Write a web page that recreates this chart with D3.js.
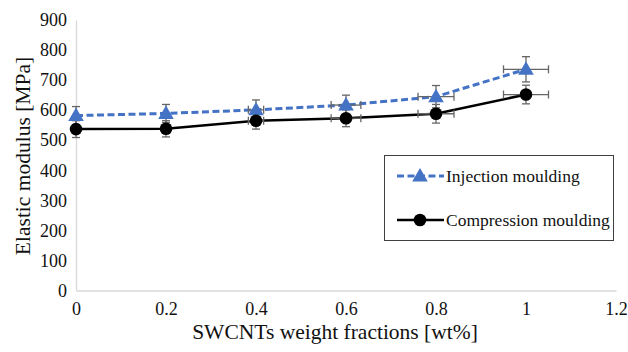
<!DOCTYPE html>
<html>
<head>
<meta charset="utf-8">
<script src="https://cdn.jsdelivr.net/npm/d3@7"></script>
<style>
  html, body { margin: 0; padding: 0; background: #fff; }
  svg, svg text { font-family: "Liberation Serif", "Times New Roman", serif; }
  svg { display: block; }
</style>
</head>
<body>
<svg id="chart" width="628" height="352"></svg>
<script>
// SWCNT loading (wt%) and elastic modulus (MPa) for the two processing routes
const fractions = [0, 0.2, 0.4, 0.6, 0.8, 1.0];
const injection = [582, 589, 601, 617, 645, 736];
const injectionErrY = [30, 30, 33, 33, 37, 42];
const compression = [537, 538, 565, 573, 588, 652];
const compressionErrY = [28, 27, 28, 28, 31, 31];
const fractionErrX = [0, 0, 0.017, 0.033, 0.04, 0.05];
const xTicks = [0, 0.2, 0.4, 0.6, 0.8, 1, 1.2];
const yTicks = [0, 100, 200, 300, 400, 500, 600, 700, 800, 900];
const seriesNames = ["Injection moulding", "Compression moulding"];

const FONT = "Liberation Serif, Times New Roman, serif";
const svg = d3.select("#chart");
const x = d3.scaleLinear().domain([0, 1.2]).range([76, 616]);
const y = d3.scaleLinear().domain([0, 900]).range([290.5, 20]);

// axes
const xAxis = svg.append("g").attr("transform", `translate(0,${y(0)})`)
  .call(d3.axisBottom(x).tickValues(xTicks).tickSize(0).tickPadding(12)
    .tickFormat(d => String(+d.toFixed(1))));
const yAxis = svg.append("g").attr("transform", `translate(${x(0)},0)`)
  .call(d3.axisLeft(y).tickValues(yTicks).tickSize(0).tickPadding(9));
[xAxis, yAxis].forEach(g => {
  g.attr("font-family", FONT).attr("font-size", 18);
  g.select(".domain").attr("stroke", "#d9d9d9").attr("stroke-width", 1.3);
  g.selectAll("text").attr("fill", "#111");
});

svg.append("text").attr("x", 335).attr("y", 339).attr("text-anchor", "middle")
  .attr("font-family", FONT).attr("font-size", 21.5).attr("fill", "#111")
  .text("SWCNTs weight fractions [wt%]");
svg.append("text").attr("transform", "translate(22,156) rotate(-90)")
  .attr("text-anchor", "middle").attr("dy", "0.35em")
  .attr("font-family", FONT).attr("font-size", 21.5).attr("fill", "#111")
  .text("Elastic modulus [MPa]");

const blue = "#4472C4";
const series = [
  { vals: injection, err: injectionErrY, color: blue, dash: "7,3.5", width: 3, marker: "triangle" },
  { vals: compression, err: compressionErrY, color: "#000", dash: null, width: 2.5, marker: "circle" }
];

const line = d3.line();
const errColor = "#666";
const cap = 4;

series.forEach(s => {
  const pts = fractions.map((f, i) => [x(f), y(s.vals[i])]);
  svg.append("path").attr("d", line(pts)).attr("fill", "none")
    .attr("stroke", s.color).attr("stroke-width", s.width)
    .attr("stroke-dasharray", s.dash);
});

// error bars
series.forEach(s => {
  const g = svg.append("g").attr("stroke", errColor).attr("stroke-width", 1.3).attr("fill", "none");
  fractions.forEach((f, i) => {
    const cx = x(f), cy = y(s.vals[i]);
    const y0 = y(s.vals[i] - s.err[i]), y1 = y(s.vals[i] + s.err[i]);
    g.append("line").attr("x1", cx).attr("x2", cx).attr("y1", y0).attr("y2", y1);
    g.append("line").attr("x1", cx - cap).attr("x2", cx + cap).attr("y1", y0).attr("y2", y0);
    g.append("line").attr("x1", cx - cap).attr("x2", cx + cap).attr("y1", y1).attr("y2", y1);
    if (fractionErrX[i] > 0) {
      const xa = x(f - fractionErrX[i]), xb = x(f + fractionErrX[i]);
      g.append("line").attr("x1", xa).attr("x2", xb).attr("y1", cy).attr("y2", cy);
      g.append("line").attr("x1", xa).attr("x2", xa).attr("y1", cy - cap).attr("y2", cy + cap);
      g.append("line").attr("x1", xb).attr("x2", xb).attr("y1", cy - cap).attr("y2", cy + cap);
    }
  });
});

const triangle = d3.symbol().type(d3.symbolTriangle).size(105);
const circle = d3.symbol().type(d3.symbolCircle).size(125);

function marker(g, type, cx, cy, color) {
  g.append("path").attr("d", (type === "triangle" ? triangle : circle)())
    .attr("transform", `translate(${cx},${cy + (type === "triangle" ? 1 : 0)})`)
    .attr("fill", color);
}

series.forEach(s => {
  const g = svg.append("g");
  fractions.forEach((f, i) => marker(g, s.marker, x(f), y(s.vals[i]), s.color));
});

// legend
const lg = svg.append("g");
lg.append("rect").attr("x", 384.5).attr("y", 155.5).attr("width", 229).attr("height", 85)
  .attr("fill", "#fff").attr("stroke", "#404040").attr("stroke-width", 1);
series.forEach((s, i) => {
  const ly = 176 + i * 44;
  lg.append("line").attr("x1", 397).attr("x2", 444).attr("y1", ly).attr("y2", ly)
    .attr("stroke", s.color).attr("stroke-width", s.width).attr("stroke-dasharray", s.dash);
  marker(lg, s.marker, 420, ly, s.color);
  lg.append("text").attr("x", 446).attr("y", ly).attr("dy", "0.35em")
    .attr("font-family", FONT).attr("font-size", 17.5).attr("fill", "#111")
    .text(seriesNames[i]);
});
</script>
</body>
</html>
